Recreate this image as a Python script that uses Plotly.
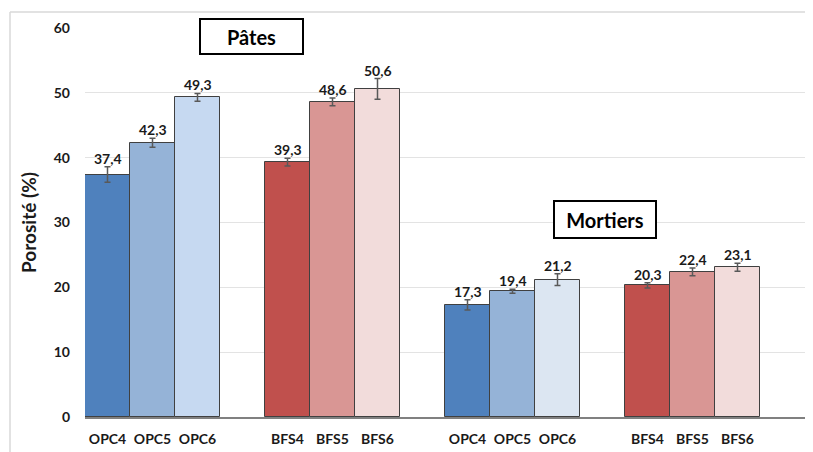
import plotly.graph_objects as go

labels = ["OPC4", "OPC5", "OPC6", "BFS4", "BFS5", "BFS6",
          "OPC4", "OPC5", "OPC6", "BFS4", "BFS5", "BFS6"]
groups = ["Pâtes"] * 6 + ["Mortiers"] * 6
values = [37.4, 42.3, 49.3, 39.3, 48.6, 50.6, 17.3, 19.4, 21.2, 20.3, 22.4, 23.1]
errors = [1.2, 0.7, 0.6, 0.6, 0.6, 1.6, 0.8, 0.3, 0.9, 0.4, 0.6, 0.6]
colors = ["#4F81BD", "#95B3D7", "#C6D9F1", "#C0504D", "#D99694", "#F2DCDB",
          "#4F81BD", "#95B3D7", "#DCE6F2", "#C0504D", "#D99694", "#F2DCDB"]
# slot positions (one empty slot after each group of three)
slots = [0, 1, 2, 4, 5, 6, 8, 9, 10, 12, 13, 14]
xpos = [s + 0.5 for s in slots]
yticks = [0, 10, 20, 30, 40, 50, 60]

FONT = "Lato"

fig = go.Figure()
fig.add_trace(go.Bar(
    x=xpos, y=values, width=1.0,
    marker=dict(color=colors, line=dict(color="#404040", width=1)),
    error_y=dict(type="data", array=errors, visible=True,
                 color="#595959", thickness=1.5, width=3),
    showlegend=False, hoverinfo="skip",
))

for x, v, e in zip(xpos, values, errors):
    fig.add_annotation(x=x, y=v + e, text=f"<b>{v:.1f}</b>".replace(".", ","),
                       showarrow=False, yanchor="bottom", yshift=-2,
                       font=dict(family=FONT, size=14, color="#1a1a1a"))

fig.add_annotation(x=3.7, y=58.7, text="<b>Pâtes</b>", showarrow=False,
                   font=dict(family=FONT, size=20, color="black"),
                   bordercolor="black", borderwidth=2, bgcolor="white",
                   width=99, height=31)
fig.add_annotation(x=11.56, y=30.46, text="<b>Mortiers</b>", showarrow=False,
                   font=dict(family=FONT, size=20, color="black"),
                   bordercolor="black", borderwidth=2, bgcolor="white",
                   width=98, height=33)

# outer chart frame (only left and top edges are visible in the reference)
ytop = (409 - 4) / 389
xleft = -75 / 720
fig.add_shape(type="line", xref="paper", yref="paper",
              x0=xleft, x1=xleft, y0=-43 / 389, y1=ytop,
              line=dict(color="#D9D9D9", width=1.5), layer="below")
fig.add_shape(type="line", xref="paper", yref="paper",
              x0=xleft, x1=(813 - 77) / 720, y0=ytop, y1=ytop,
              line=dict(color="#D9D9D9", width=1.5), layer="below")

fig.update_layout(
    width=813, height=452,
    margin=dict(l=77, r=16, t=20, b=43, autoexpand=False),
    paper_bgcolor="white", plot_bgcolor="white",
    bargap=0,
    font=dict(family=FONT, color="#1a1a1a"),
    xaxis=dict(range=[0, 16], tickmode="array", tickvals=xpos,
               ticktext=[f"<b>{l}</b>" for l in labels],
               tickfont=dict(family=FONT, size=14), showgrid=False,
               showline=True, linecolor="#808080", linewidth=1.5, ticks="",
               ticklabelstandoff=8, zeroline=False, automargin=False),
    yaxis=dict(range=[0, 60], tickvals=yticks,
               ticktext=[f"<b>{t}</b>" for t in yticks],
               tickfont=dict(family=FONT, size=14), showgrid=True,
               gridcolor="#E3E3E3", gridwidth=1, zeroline=False, ticks="",
               ticklabelstandoff=14, automargin=False,
               title=dict(text="<b>Porosité (%)</b>", font=dict(family=FONT, size=19),
                          standoff=12)),
)

fig.write_html("out.html")
